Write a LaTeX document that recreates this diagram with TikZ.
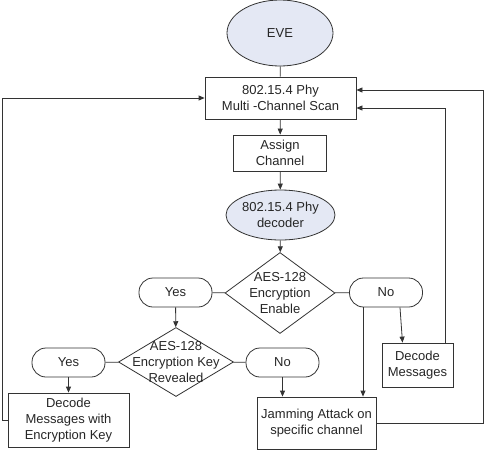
\documentclass[tikz,border=0pt]{standalone}
\usepackage{fontspec}
\setmainfont{Liberation Sans}
\usetikzlibrary{shapes.geometric,arrows.meta}
\definecolor{evefill}{HTML}{E4E8F4}
\begin{document}
\begin{tikzpicture}[x=1pt,y=-1pt,font=\fontsize{13}{16}\selectfont,
    line/.style={draw=black!80,line width=0.8pt},
    arr/.style={line,-{Triangle[length=6pt,width=5pt]}},
    blk/.style={draw=black!80,line width=0.8pt,align=center,inner sep=0pt,text=black!85},
    pill/.style={blk,rounded corners=14pt,minimum width=73,minimum height=29},
    ell/.style={blk,ellipse,fill=evefill},
    dia/.style={blk,diamond}]
    \useasboundingbox (0,0) rectangle (485,456);
    % blocks
    \node[ell,minimum width=106,minimum height=66] (eve) at (280,33) {EVE};
    \node[blk,minimum width=151,minimum height=42] (scan) at (280.5,98) {802.15.4 Phy\\Multi -Channel Scan};
    \node[blk,minimum width=93,minimum height=36] (assign) at (280,153) {Assign\\Channel};
    \node[ell,minimum width=109,minimum height=50,label={[align=center,text=black!85]center:802.15.4 Phy\\decoder}] (phy) at (280.5,215) {};
    \node[dia,minimum width=110,minimum height=81,label={[align=center,text=black!85]center:AES-128\\Encryption\\Enable}] (enc) at (280,293) {};
    \node[pill] (yes1) at (175.5,292.5) {Yes};
    \node[pill] (no1) at (386,292.5) {No};
    \node[dia,minimum width=115,minimum height=69,label={[align=center,text=black!85]center:AES-128\\Encryption Key\\Revealed}] (key) at (176,362) {};
    \node[pill] (yes2) at (68.5,362.5) {Yes};
    \node[pill] (no2) at (282.5,362.5) {No};
    \node[blk,minimum width=121,minimum height=54] (deckey) at (68.5,420) {Decode\\Messages with\\Encryption Key};
    \node[blk,minimum width=119,minimum height=52] (jam) at (316.5,423) {Jamming Attack on\\specific channel};
    \node[blk,minimum width=71,minimum height=44] (dec) at (417.5,365) {Decode\\Messages};
    % connectors
    \draw[line] (eve) -- (scan);
    \draw[arr] (scan) -- (assign);
    \draw[arr] (assign) -- (phy);
    \draw[arr] (phy) -- (enc);
    \draw[line] (yes1) -- (enc);
    \draw[line] (enc) -- (no1);
    \draw[arr] (yes1) -- (key);
    \draw[line] (yes2) -- (key);
    \draw[line] (key) -- (no2);
    \draw[arr] (yes2) -- (deckey);
    \draw[arr] (no2.south) -- (no2.south |- jam.north);
    \draw[arr] ([xshift=-23pt]no1.south) -- ([xshift=-23pt]no1.south |- jam.north);
    \draw[arr] ([xshift=14pt]no1.south) -- ([xshift=-15pt]dec.north);
    % loops back to the scan
    \draw[arr] ([xshift=28pt]dec.north) |- ([yshift=-10pt]scan.east);
    \draw[arr] (jam.east) -- ++(107,0) |- ([yshift=8pt]scan.east);
    \draw[arr] (deckey.west) -- ++(-5,0) |- (scan.west);
\end{tikzpicture}
\end{document}
